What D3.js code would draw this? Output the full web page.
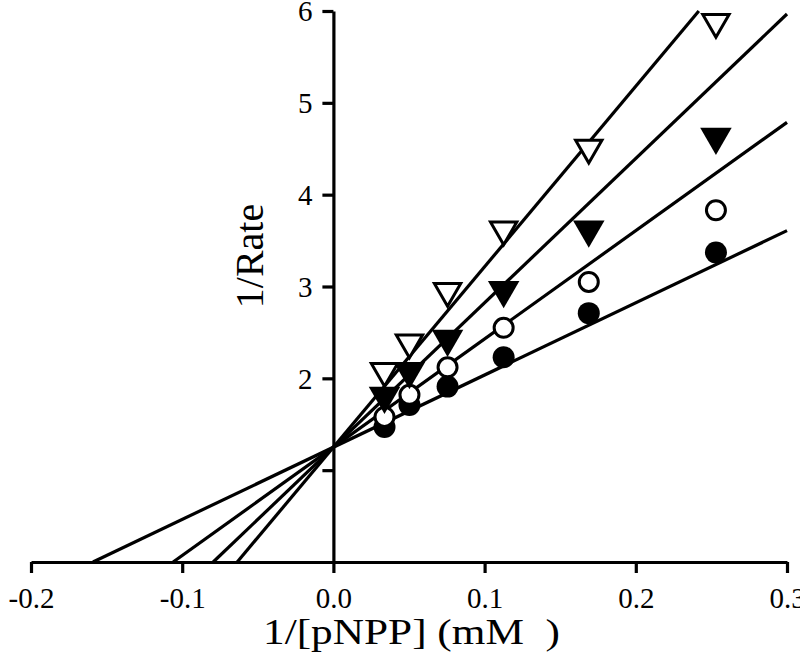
<!DOCTYPE html>
<html>
<head>
<meta charset="utf-8">
<script src="https://cdn.jsdelivr.net/npm/d3@7"></script>
<style>
  html, body { margin: 0; padding: 0; background: #fff; }
  svg { display: block; }
  text { font-family: "Times New Roman", Times, "Liberation Serif", Tinos, serif; fill: #000; }
</style>
</head>
<body>
<div id="chart"></div>
<script>
// ---- data ----
const invSubstrate = [0.0338, 0.0503, 0.0755, 0.1126, 0.1689, 0.2530];
const seriesNames = ["filledCircle", "openCircle", "filledTriangle", "openTriangle"];
const filledCircle = [1.47, 1.71, 1.91, 2.23, 2.71, 3.37];
const openCircle = [1.58, 1.82, 2.12, 2.55, 3.05, 3.83];
const filledTriangle = [1.81, 2.08, 2.43, 2.96, 3.62, 4.63];
const openTriangle = [2.08, 2.39, 2.95, 3.62, 4.51, 5.88];
const seriesValues = [filledCircle, openCircle, filledTriangle, openTriangle];
// fitted lines: common y-intercept, x-intercepts per series
const yIntercept = 1.25;
const xIntercepts = [-0.159, -0.106, -0.0795, -0.0636];
const xTicks = [-0.2, -0.1, 0.0, 0.1, 0.2, 0.3];
const xTickLabels = ["-0.2", "-0.1", "0.0", "0.1", "0.2", "0.3"];
const yTicks = [1, 2, 3, 4, 5, 6];
const yTickLabels = ["", "2", "3", "4", "5", "6"];
const xTitle = "1/[pNPP] (mM  )";
const yTitle = "1/Rate";

// ---- layout ----
const W = 800, H = 666;
const FONT = '"Times New Roman", Times, "Liberation Serif", Tinos, serif';
const svg = d3.select("#chart").append("svg").attr("width", W).attr("height", H);
const x = d3.scaleLinear().domain([-0.2, 0.3]).range([31, 787]);
const y = d3.scaleLinear().domain([0, 6]).range([562, 11]);
const xMax = 0.3, yMax = 6;

// lines
const lineGen = d3.line().x(d => x(d[0])).y(d => y(d[1]));
xIntercepts.forEach((xi) => {
  const slope = -yIntercept / xi;
  let xEnd = xMax, yEnd = yIntercept + slope * xMax;
  if (yEnd > yMax) { yEnd = yMax; xEnd = (yMax - yIntercept) / slope; }
  svg.append("path")
    .attr("d", lineGen([[xi, 0], [xEnd, yEnd]]))
    .attr("fill", "none").attr("stroke", "#000").attr("stroke-width", 3.2);
});

// axes
const xAxis = d3.axisBottom(x).tickValues(xTicks).tickFormat((d, i) => xTickLabels[i])
  .tickSizeInner(11).tickSizeOuter(0).tickPadding(14);
const gx = svg.append("g").attr("transform", `translate(0,${y(0)})`).call(xAxis);
const yAxis = d3.axisLeft(y).tickValues(yTicks).tickFormat((d, i) => yTickLabels[i])
  .tickSizeInner(11).tickSizeOuter(0).tickPadding(10);
const gy = svg.append("g").attr("transform", `translate(${x(0)},0)`).call(yAxis);
[gx, gy].forEach(g => {
  g.attr("font-family", FONT).attr("font-size", 29);
  g.select(".domain").attr("stroke", "#000").attr("stroke-width", 3.2);
  g.selectAll(".tick line").attr("stroke", "#000").attr("stroke-width", 3.2);
  g.selectAll(".tick text").style("font-family", FONT)
    .style("font-size", "29px").attr("fill", "#000");
});
gy.selectAll(".tick text").attr("dy", "0.34em");

// markers
const triFilled = d3.symbol().type(d3.symbolTriangle).size(430);
const triOpen = d3.symbol().type(d3.symbolTriangle).size(300);
seriesValues.forEach((vals, si) => {
  const g = svg.append("g");
  vals.forEach((v, i) => {
    const cx = x(invSubstrate[i]), cy = y(v);
    if (si === 0) {
      g.append("circle").attr("cx", cx).attr("cy", cy).attr("r", 11).attr("fill", "#000");
    } else if (si === 1) {
      g.append("circle").attr("cx", cx).attr("cy", cy).attr("r", 9.5)
        .attr("fill", "#fff").attr("stroke", "#000").attr("stroke-width", 3);
    } else if (si === 2) {
      g.append("path").attr("d", triFilled())
        .attr("transform", `translate(${cx},${cy}) rotate(180)`).attr("fill", "#000");
    } else {
      g.append("path").attr("d", triOpen())
        .attr("transform", `translate(${cx},${cy}) rotate(180)`)
        .attr("fill", "#fff").attr("stroke", "#000").attr("stroke-width", 3);
    }
  });
});

// titles
svg.append("text").attr("x", 263).attr("y", 644)
  .style("font-family", FONT)
  .style("font-size", "36px").style("white-space", "pre")
  .attr("textLength", 297).attr("lengthAdjust", "spacingAndGlyphs")
  .text(xTitle);
svg.append("text")
  .attr("transform", `translate(263,256) rotate(-90)`)
  .attr("text-anchor", "middle")
  .style("font-family", FONT)
  .style("font-size", "40px")
  .text(yTitle);
</script>
</body>
</html>
